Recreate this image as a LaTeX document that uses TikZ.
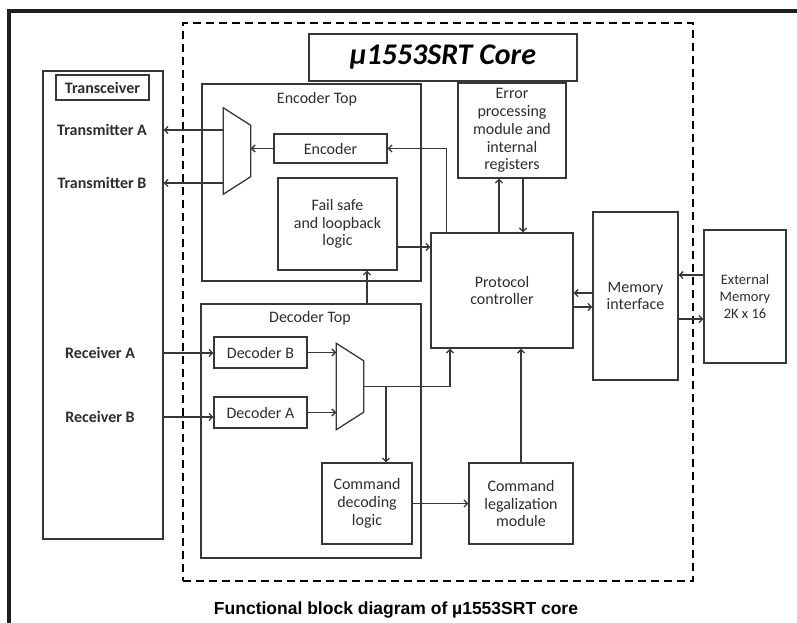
\documentclass[tikz,border=0pt]{standalone}
\usepackage{fontspec}
\setmainfont{Carlito}
\newfontfamily\capfont{Liberation Sans}
\usetikzlibrary{arrows.meta,positioning,calc}
\definecolor{ink}{RGB}{55,55,55}
\definecolor{txt}{RGB}{45,45,45}
\tikzset{
  arr/.style={-{Straight Barb[length=3.5pt,width=7pt]},line width=1.3pt,draw=ink},
  wire/.style={line width=1.3pt,draw=ink},
  blk/.style={draw=ink,line width=1.3pt,inner sep=0pt,align=center,text=txt,font=\fontsize{16}{17.8}\selectfont},
  lab/.style={inner sep=0pt,text=txt,font=\fontsize{16}{18}\selectfont\bfseries},
  ttl/.style={inner sep=0pt,text=txt,font=\fontsize{16}{18}\selectfont},
  muxbox/.style={inner sep=0pt,minimum width=27pt,minimum height=86pt},
  corebox/.style={draw=black,line width=1.8pt,dash pattern=on 8pt off 5pt}
}
\newcommand{\muxshape}[1]{\draw[wire] (#1.north west) -- ([yshift=-17.5pt]#1.north east) -- ([yshift=17.5pt]#1.south east) -- (#1.south west) -- cycle;}

\begin{document}
\begin{tikzpicture}[x=1pt,y=-1pt]
  \useasboundingbox (0,0) rectangle (797,623);
  \draw[line width=4pt,draw=black!88] (9,625) -- (9,11) -- (799,11);

  \node[corebox,minimum width=510pt,minimum height=558pt] (core) at (438,302) {};
  \node[blk,minimum width=268pt,minimum height=47pt,text=black,font=\fontsize{30}{34}\selectfont\bfseries\itshape] (title) at (443,57.5) {µ1553SRT Core};

  % transceiver side
  \node[blk,minimum width=120pt,minimum height=468pt] (trx) at (103,305) {};
  \node[blk,minimum width=93pt,minimum height=25pt,font=\fontsize{16}{18}\selectfont\bfseries] (trxlab) at (102.5,87.5) {Transceiver};
  \node[lab] (txa) at (102,130) {Transmitter A};
  \node[lab] (txb) at (102,183) {Transmitter B};
  \node[lab] (rxa) at (100,353) {Receiver A};
  \node[lab] (rxb) at (100,417) {Receiver B};

  % encoder top
  \node[blk,minimum width=219pt,minimum height=197pt] (enctop) at (311.5,182.5) {};
  \node[ttl] (enctoplab) at (317,99) {Encoder Top};
  \node[muxbox] (emux) at (237,151) {};
  \muxshape{emux}
  \node[blk,minimum width=113pt,minimum height=29pt] (enc) at (330.5,148.5) {Encoder};
  \node[blk,minimum width=119pt,minimum height=92pt] (fsafe) at (337.5,224) {Fail safe\\and loopback\\logic};

  % decoder top
  \node[blk,minimum width=220pt,minimum height=254pt] (dectop) at (311,431) {};
  \node[ttl] (dectoplab) at (310,318) {Decoder Top};
  \node[blk,minimum width=93pt,minimum height=31pt] (decb) at (260.5,352.5) {Decoder B};
  \node[blk,minimum width=93pt,minimum height=31pt] (deca) at (260.5,412.5) {Decoder A};
  \node[muxbox] (dmux) at (350,386.5) {};
  \muxshape{dmux}
  \node[blk,minimum width=90pt,minimum height=81pt] (cmddec) at (367,503.5) {Command\\decoding\\logic};

  % core blocks
  \node[blk,minimum width=108pt,minimum height=95pt] (err) at (512,130.5) {Error\\processing\\module and\\internal\\registers};
  \node[blk,minimum width=142pt,minimum height=115pt] (proto) at (502,290.5) {Protocol\\controller};
  \node[blk,minimum width=104pt,minimum height=81pt] (cmdleg) at (521,503.5) {Command\\legalization\\module};
  \node[blk,minimum width=85pt,minimum height=168pt] (mem) at (635.5,296) {Memory\\interface};
  \node[blk,minimum width=82pt,minimum height=133pt,font=\fontsize{14.5}{17}\selectfont] (ext) at (745,296.5) {External\\Memory\\2K x 16};

  \node[font=\fontsize{17.5}{20}\capfont\bfseries] (cap) at (396,610) {Functional block diagram of µ1553SRT core};

  % connectors
  \draw[arr] (emux.west |- txa) -- (trx.east |- txa);
  \draw[arr] (emux.west |- txb) -- (trx.east |- txb);
  \draw[arr] (enc.west) -- (emux.east |- enc.west);
  \draw[arr] ([xshift=16pt]proto.north west) |- (enc.east);
  \coordinate (fs) at ([yshift=-23pt]fsafe.east);
  \draw[arr] (fs) -- (fs -| proto.west);
  \coordinate (dt) at ([xshift=29.5pt]fsafe.south);
  \draw[arr] (dt |- dectop.north) -- (dt);
  \coordinate (eu) at ([xshift=-13pt]err.south);
  \draw[arr] (eu |- proto.north) -- (eu);
  \coordinate (ed) at ([xshift=11pt]err.south);
  \draw[arr] (ed) -- (ed |- proto.north);
  \coordinate (m1) at ([yshift=3pt]mem.west);
  \draw[arr] (m1) -- (m1 -| proto.east);
  \coordinate (m2) at ([yshift=-11pt]mem.west);
  \draw[arr] (m2 -| proto.east) -- (m2);
  \coordinate (x1) at ([yshift=21.5pt]ext.west);
  \draw[arr] (x1) -- (x1 -| mem.east);
  \coordinate (x2) at ([yshift=-22.5pt]ext.west);
  \draw[arr] (x2 -| mem.east) -- (x2);
  \draw[arr] (trx.east |- rxa) -- (decb.west |- rxa);
  \draw[arr] (trx.east |- rxb) -- (deca.west |- rxb);
  \draw[arr] (decb.east) -- (dmux.west |- decb.east);
  \draw[arr] (deca.east) -- (dmux.west |- deca.east);
  \coordinate (po) at ([xshift=-52pt]proto.south);
  \draw[arr] (dmux.east) -| (po);
  \coordinate (br) at ([xshift=19pt]cmddec.north);
  \draw[arr] (br |- dmux.east) -- (br);
  \draw[arr] (cmddec.east) -- (cmdleg.west);
  \draw[arr] (cmdleg.north) -- (cmdleg.north |- proto.south);
\end{tikzpicture}
\end{document}
